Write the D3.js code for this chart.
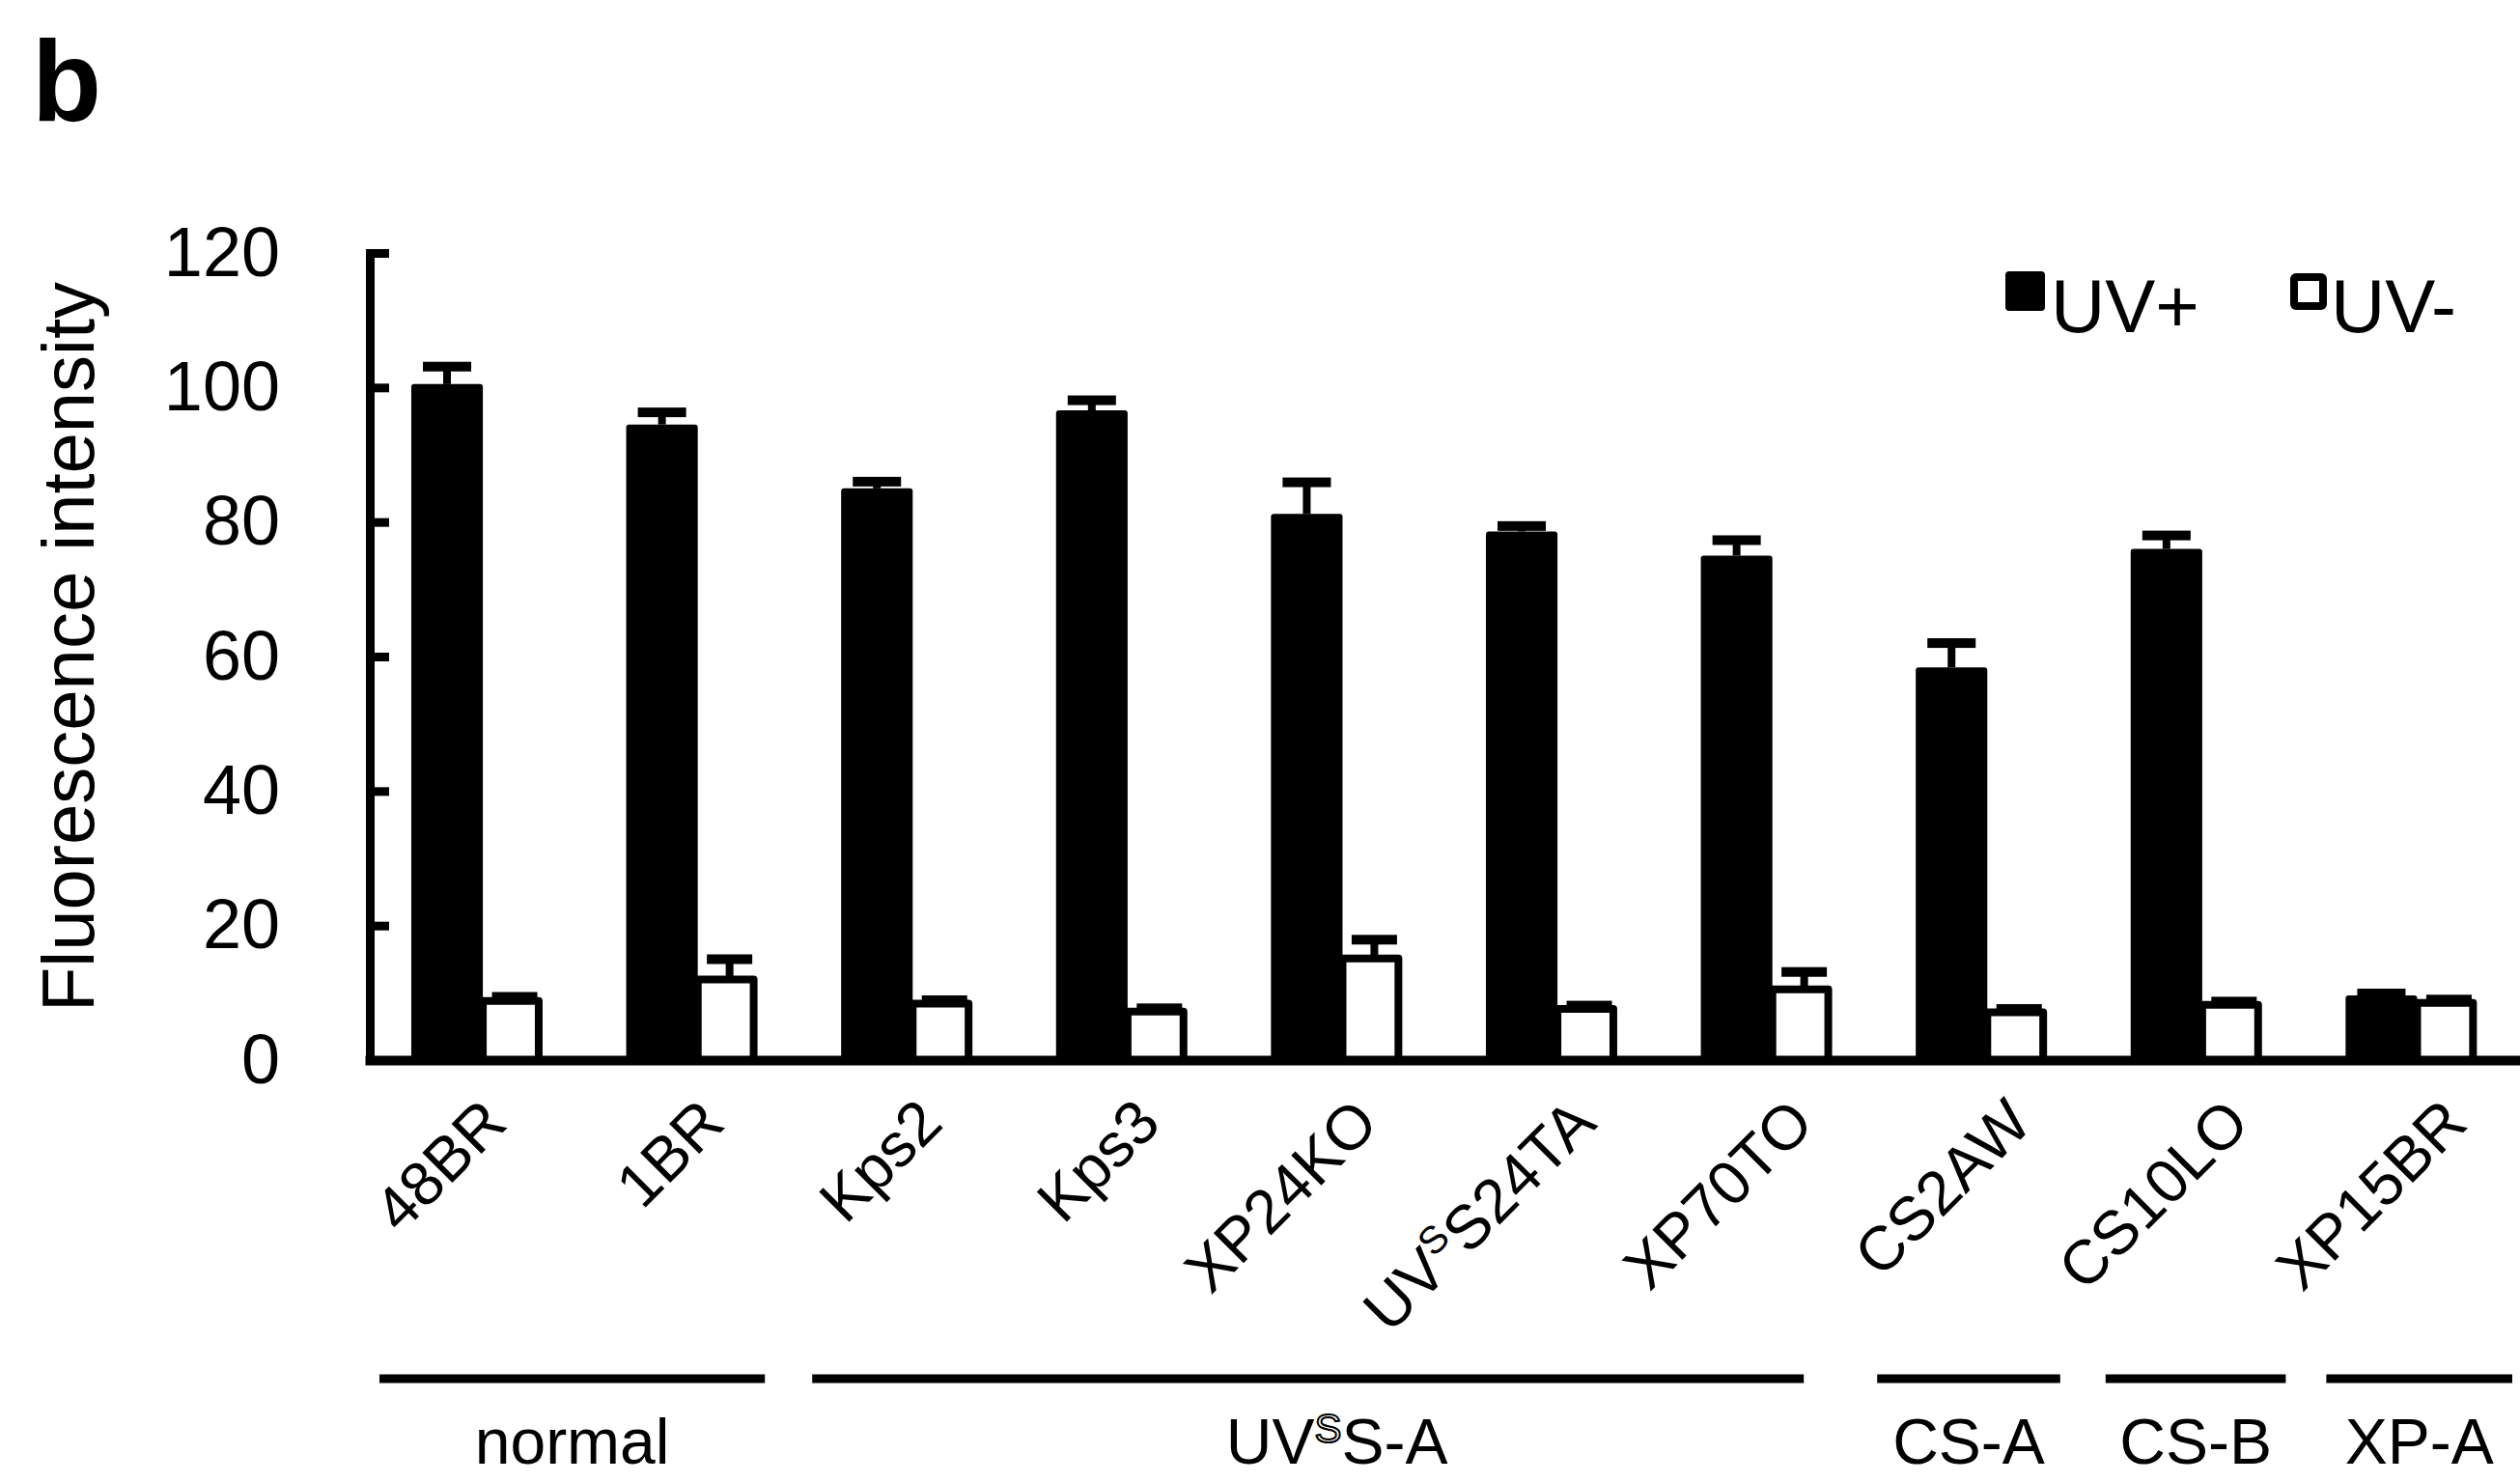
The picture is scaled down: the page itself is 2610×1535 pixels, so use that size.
<!DOCTYPE html>
<html>
<head>
<meta charset="utf-8">
<script src="https://cdn.jsdelivr.net/npm/d3@7"></script>
<style>
  html, body { margin: 0; padding: 0; background: #fff; }
  svg { display: block; font-family: "Liberation Sans", Arial, Helvetica, sans-serif; }
</style>
</head>
<body>
<svg id="chart" width="2610" height="1535"></svg>
<script>
// ---- data ----
const categories = ["48BR", "1BR", "Kps2", "Kps3", "XP24KO", "UV^SS24TA", "XP70TO", "CS2AW", "CS10LO", "XP15BR"];
const uvPlus     = [100.5, 94.5, 85.0, 96.6, 81.2, 78.6, 75.0, 58.4, 76.0, 9.6];
const uvPlusErr  = [2.6, 1.8, 1.0, 1.5, 4.7, 0.8, 2.3, 3.6, 2.0, 0.3];
const uvMinus    = [8.8, 12.0, 8.4, 7.2, 15.1, 7.6, 10.5, 7.1, 8.2, 8.5];
const uvMinusErr = [0.6, 3.0, 0.5, 0.5, 2.8, 0.5, 2.6, 0.5, 0.5, 0.5];
const yTicks = [0, 20, 40, 60, 80, 100, 120];
const seriesNames = ["UV+", "UV-"];
const groupNames = ["normal", "UV^SS-A", "CS-A", "CS-B", "XP-A"];
const groupFirst = ["48BR", "Kps2", "CS2AW", "CS10LO", "XP15BR"];
const groupLast  = ["1BR", "XP70TO", "CS2AW", "CS10LO", "XP15BR"];
const yTitle = "Fluorescence intensity";
const panelLabel = "b";

// ---- helpers ----
function writeSup(sel, str, supSize, supShift, outlineSup) {
  // "^X" marks a single superscript character
  const parts = str.split("^");
  sel.text(null);
  sel.append("tspan").text(parts[0]);
  for (let i = 1; i < parts.length; i++) {
    const s = sel.append("tspan").attr("font-size", supSize).attr("dy", -supShift).text(parts[i][0]);
    if (outlineSup) s.attr("fill", "#fff").attr("stroke", "#000").attr("stroke-width", 2);
    sel.append("tspan").attr("dy", supShift).text(parts[i].slice(1));
  }
}

// ---- layout ----
const svg = d3.select("#chart");
const x = d3.scaleBand().domain(categories).range([383, 2609]).paddingInner(0).paddingOuter(0);
const bw = x.bandwidth();
const y = d3.scaleLinear().domain([0, 120]).range([1098, 262]);

const rows = categories.map((c, i) => ({c, plus: uvPlus[i], plusErr: uvPlusErr[i], minus: uvMinus[i], minusErr: uvMinusErr[i]}));

const blackX = d => x(d.c) + bw * 0.193;
const blackW = bw * 0.333;
const whiteX = d => blackX(d) + blackW;
const whiteW = bw * 0.26;
const whiteStroke = 8;

// panel label
svg.append("text").attr("x", 33).attr("y", 125).attr("font-size", 118).attr("font-weight", "bold").text(panelLabel);

// black bars (UV+)
svg.append("g").selectAll("rect").data(rows).join("rect")
  .attr("x", blackX).attr("width", blackW)
  .attr("y", d => y(d.plus)).attr("height", d => y(0) - y(d.plus))
  .attr("rx", 3).attr("fill", "#000");

// white bars (UV-)
svg.append("g").selectAll("rect").data(rows).join("rect")
  .attr("x", whiteX).attr("width", whiteW)
  .attr("y", d => y(d.minus)).attr("height", d => y(0) - y(d.minus))
  .attr("fill", "#fff").attr("stroke", "#000").attr("stroke-width", whiteStroke).attr("stroke-linejoin", "round");

// error bars
function errBars(cxFn, valFn, errFn, capW) {
  const g = svg.append("g");
  g.selectAll("line").data(rows).join("line")
    .attr("x1", cxFn).attr("x2", cxFn)
    .attr("y1", d => y(valFn(d))).attr("y2", d => y(valFn(d) + errFn(d)))
    .attr("stroke", "#000").attr("stroke-width", 8);
  g.selectAll("rect").data(rows).join("rect")
    .attr("x", d => cxFn(d) - capW / 2).attr("width", capW)
    .attr("y", d => y(valFn(d) + errFn(d)) - 5).attr("height", 10)
    .attr("fill", "#000");
}
errBars(d => blackX(d) + blackW / 2, d => d.plus, d => d.plusErr, 50);
errBars(d => whiteX(d) + whiteW / 2 + whiteStroke / 2, d => d.minus, d => d.minusErr, 47);

// y axis
const yAxis = svg.append("g").attr("transform", "translate(383,0)")
  .call(d3.axisLeft(y).tickValues(yTicks).tickSizeInner(-20).tickSizeOuter(0).tickPadding(93));
yAxis.select(".domain").attr("stroke", "#000").attr("stroke-width", 9).attr("stroke-linecap", "square");
yAxis.selectAll(".tick line").attr("stroke", "#000").attr("stroke-width", 9);
yAxis.selectAll(".tick text").attr("font-size", 72).attr("fill", "#000")
  .attr("font-family", "Liberation Sans, Arial, sans-serif");

// x axis
const xAxis = svg.append("g").attr("transform", `translate(0,${y(0)})`)
  .call(d3.axisBottom(x).tickSize(0).tickSizeOuter(0));
xAxis.select(".domain").attr("stroke", "#000").attr("stroke-width", 10).attr("stroke-linecap", "square");
xAxis.selectAll(".tick text").each(function(d, i) {
  const t = d3.select(this)
    .attr("x", 0).attr("y", 0).attr("dy", null)
    .attr("transform", `translate(${bw * 0.15 + i * 3},68) rotate(-45)`)
    .attr("text-anchor", "end").attr("font-size", 64).attr("fill", "#000")
    .attr("font-family", "Liberation Sans, Arial, sans-serif");
  writeSup(t, d, 40, 24, false);
});

// y title
svg.append("text")
  .attr("transform", "translate(97,670) rotate(-90)")
  .attr("text-anchor", "middle").attr("font-size", 76).text(yTitle);

// legend
const legend = svg.append("g");
legend.append("rect").attr("x", 2077).attr("y", 281).attr("width", 41).attr("height", 41).attr("rx", 4).attr("fill", "#000");
legend.append("text").attr("x", 2124).attr("y", 344).attr("font-size", 78).text(seriesNames[0]);
legend.append("rect").attr("x", 2376).attr("y", 287).attr("width", 30).attr("height", 30).attr("rx", 2)
  .attr("fill", "#fff").attr("stroke", "#000").attr("stroke-width", 8);
legend.append("text").attr("x", 2414).attr("y", 344).attr("font-size", 78).text(seriesNames[1]);

// group brackets
const padStart = [10, 13, 3, 17, 23];
const padEnd = [36, 73, 30, 19, 7];
const labelShift = [0, 30, 0, 0, 0];
const gg = svg.append("g");
groupNames.forEach((name, i) => {
  const x0 = x(groupFirst[i]) + padStart[i];
  const x1 = x(groupLast[i]) + bw - padEnd[i];
  gg.append("line").attr("x1", x0).attr("x2", x1).attr("y1", 1428).attr("y2", 1428)
    .attr("stroke", "#000").attr("stroke-width", 9);
  const t = gg.append("text").attr("x", (x0 + x1) / 2 + labelShift[i]).attr("y", 1516)
    .attr("text-anchor", "middle").attr("font-size", 66);
  writeSup(t, name, 42, 22, true);
});
</script>
</body>
</html>
